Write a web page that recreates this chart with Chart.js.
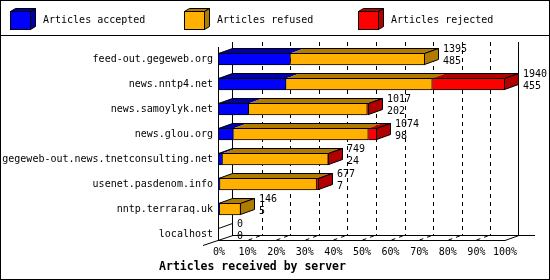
<!DOCTYPE html>
<html><head><meta charset="utf-8">
<script src="https://cdn.jsdelivr.net/npm/chart.js@4/dist/chart.umd.min.js"></script>
<style>html,body{margin:0;padding:0;background:#fff;}#wrap{width:550px;height:280px;}</style>
</head><body><div id="wrap"><canvas id="c" width="550" height="280"></canvas></div>
<script>
// ---- data ----
const categories = ['feed-out.gegeweb.org','news.nntp4.net','news.samoylyk.net','news.glou.org','gegeweb-out.news.tnetconsulting.net','usenet.pasdenom.info','nntp.terraraq.uk','localhost'];
const seriesLabels = ['Articles accepted','Articles refused','Articles rejected'];
const accepted = [485, 455, 202, 98, 24, 7, 5, 0];
const refused  = [910, 992, 804, 915, 717, 655, 141, 0];
const rejected = [0, 493, 11, 61, 8, 15, 0, 0];
const totals   = [1395, 1940, 1017, 1074, 749, 677, 146, 0];
const xTitle = 'Articles received by server';

// ---- style ----
const FRONT = ['#0000FF', '#FFB000', '#FF0000'];
const DARK  = ['#0000A8', '#B07C00', '#B00000'];
const DX = 14, DY = 5, BAR = 12;
const MONO = "'DejaVu Sans Mono', monospace";
const maxTotal = Math.max(...totals);

function poly(ctx, pts, fill, stroke) {
  ctx.beginPath();
  ctx.moveTo(pts[0][0], pts[0][1]);
  for (let i = 1; i < pts.length; i++) ctx.lineTo(pts[i][0], pts[i][1]);
  ctx.closePath();
  if (fill) { ctx.fillStyle = fill; ctx.fill(); }
  if (stroke) { ctx.strokeStyle = stroke; ctx.lineWidth = 1; ctx.stroke(); }
}
function line(ctx, x1, y1, x2, y2, dash) {
  ctx.save();
  ctx.setLineDash(dash || []);
  ctx.strokeStyle = '#000'; ctx.lineWidth = 1;
  ctx.beginPath(); ctx.moveTo(x1, y1); ctx.lineTo(x2, y2); ctx.stroke();
  ctx.restore();
}

const plugin3d = {
  id: 'plugin3d',
  beforeDatasetsDraw(chart) {
    const ctx = chart.ctx, xs = chart.scales.x, ys = chart.scales.y, a = chart.chartArea;
    const floorF = Math.round(ys.getPixelForValue(categories.length - 1) + BAR / 2);
    const topF = Math.round(a.top);
    const x0 = Math.round(xs.getPixelForValue(0));
    const x100 = Math.round(xs.getPixelForValue(maxTotal));
    for (let p = 1; p < 10; p++) {
      const xf = Math.round(xs.getPixelForValue(maxTotal * p / 10));
      const xb = xf + DX;
      line(ctx, xb + 0.5, topF - DY, xb + 0.5, floorF - DY, [4, 4]);
      line(ctx, xf + 0.5, floorF, xb + 0.5, floorF - DY, [4, 4]);
    }
    line(ctx, x0 - 0.5, topF, x0 - 0.5, floorF + 1);
    line(ctx, x0 + DX - 0.5, topF - DY, x0 + DX - 0.5, floorF - DY + 1);
    line(ctx, x100 + DX - 0.5, topF - DY, x100 + DX - 0.5, floorF - DY + 1);
    line(ctx, x0 - 1, floorF + 0.5, x100, floorF + 0.5);
    line(ctx, x0 + DX, floorF - DY + 0.5, x100 + DX + 16, floorF - DY + 0.5);
    line(ctx, x0 - 16, floorF + 5.5, x0 + DX, floorF - DY + 0.5);
    line(ctx, x100, floorF + 0.5, x100 + DX, floorF - DY + 0.5);
  },
  afterDatasetsDraw(chart) {
    const ctx = chart.ctx;
    const metas = chart.data.datasets.map((d, i) => chart.getDatasetMeta(i));
    ctx.save();
    for (let i = 0; i < categories.length; i++) {
      let L = null, R = null, last = 0, top = 0, bottom = 0;
      const segs = [];
      metas.forEach((m, d) => {
        const el = m.data[i];
        const p = el.getProps(['x', 'y', 'base', 'height'], true);
        const l = Math.min(p.x, p.base), r = Math.max(p.x, p.base);
        top = Math.round(p.y - p.height / 2); bottom = Math.round(p.y + p.height / 2);
        if (L === null || l < L) L = l;
        if (R === null || r > R) R = r;
        if (r - l > 0.01) { segs.push([l, r, d]); last = d; }
      });
      L = Math.round(L); R = Math.round(R);
      if (segs.length) {
        segs.forEach(([l, r, d]) => {
          poly(ctx, [[l - 0.5, top + 0.5], [r - 0.5, top + 0.5], [r - 0.5 + DX, top + 0.5 - DY], [l - 0.5 + DX, top + 0.5 - DY]], DARK[d]);
        });
        poly(ctx, [[L - 0.5, top + 0.5], [R - 0.5, top + 0.5], [R - 0.5 + DX, top + 0.5 - DY], [L - 0.5 + DX, top + 0.5 - DY]], null, '#000');
        poly(ctx, [[R - 0.5, top + 0.5], [R - 0.5 + DX, top + 0.5 - DY], [R - 0.5 + DX, bottom - 0.5 - DY], [R - 0.5, bottom - 0.5]], DARK[last], '#000');
      } else {
        line(ctx, L - 0.5, top + 0.5, L - 0.5 + DX, top + 0.5 - DY);
      }
      ctx.fillStyle = '#000';
      ctx.font = '10px ' + MONO;
      ctx.textAlign = 'left'; ctx.textBaseline = 'middle';
      ctx.fillText(String(totals[i]), R + 18, top - 4);
      ctx.fillText(String(accepted[i]), R + 18, top + 8);
    }
    ctx.restore();
  },
  afterDraw(chart) {
    const ctx = chart.ctx;
    ctx.save();
    const xs = [10, 184, 358];
    chart.data.datasets.forEach((ds, d) => {
      const x = xs[d], y = 11, w = 20, h = 18, dx = 5, dy = 3;
      poly(ctx, [[x + 0.5, y + 0.5], [x + w + 0.5, y + 0.5], [x + w + dx + 0.5, y - dy + 0.5], [x + dx + 0.5, y - dy + 0.5]], DARK[d], '#000');
      poly(ctx, [[x + w + 0.5, y + 0.5], [x + w + dx + 0.5, y - dy + 0.5], [x + w + dx + 0.5, y + h - dy + 0.5], [x + w + 0.5, y + h + 0.5]], DARK[d], '#000');
      ctx.fillStyle = FRONT[d]; ctx.fillRect(x + 0.5, y + 0.5, w, h);
      ctx.strokeStyle = '#000'; ctx.lineWidth = 1; ctx.strokeRect(x + 0.5, y + 0.5, w, h);
      ctx.fillStyle = '#000';
      ctx.font = '10px ' + MONO;
      ctx.textAlign = 'left'; ctx.textBaseline = 'middle';
      ctx.fillText(ds.label, x + 33, 20.5);
    });
    line(ctx, 0, 35.5, 550, 35.5);
    ctx.strokeStyle = '#000'; ctx.lineWidth = 1;
    ctx.strokeRect(0.5, 0.5, 549, 279);
    ctx.restore();
  }
};

const seriesData = [accepted, refused, rejected];
new Chart(document.getElementById('c'), {
  type: 'bar',
  data: {
    labels: categories,
    datasets: seriesLabels.map((lab, d) => ({
      label: lab,
      data: seriesData[d],
      backgroundColor: FRONT[d],
      borderColor: '#000',
      borderWidth: 1,
      borderSkipped: 'start',
      barThickness: BAR,
      stack: 's'
    }))
  },
  options: {
    indexAxis: 'y',
    responsive: false,
    animation: false,
    devicePixelRatio: 1,
    events: [],
    layout: { padding: { top: 46.5, right: 45, left: 0, bottom: 0 } },
    plugins: {
      legend: { display: false },
      tooltip: { enabled: false },
      title: {
        display: true, position: 'bottom', text: xTitle, color: '#000',
        font: { family: MONO, size: 11.5, weight: 'bold', lineHeight: 1.2 },
        padding: { top: 2, bottom: 6 }
      }
    },
    scales: {
      x: {
        type: 'linear', stacked: true, min: 0, max: maxTotal,
        grid: { display: false, drawTicks: false }, border: { display: false },
        ticks: {
          stepSize: maxTotal / 10, autoSkip: false, maxRotation: 0, padding: 0,
          color: '#000', font: { family: MONO, size: 10 },
          callback: v => Math.round(v / maxTotal * 100) + '%'
        },
        afterFit: s => { s.height = 11.7; }
      },
      y: {
        type: 'category', stacked: true, offset: true,
        grid: { display: false, drawTicks: false }, border: { display: false },
        ticks: { color: '#000', font: { family: MONO, size: 10 }, padding: 6 },
        afterFit: s => { s.width = 219; }
      }
    }
  },
  plugins: [plugin3d]
});
</script>
</body></html>
